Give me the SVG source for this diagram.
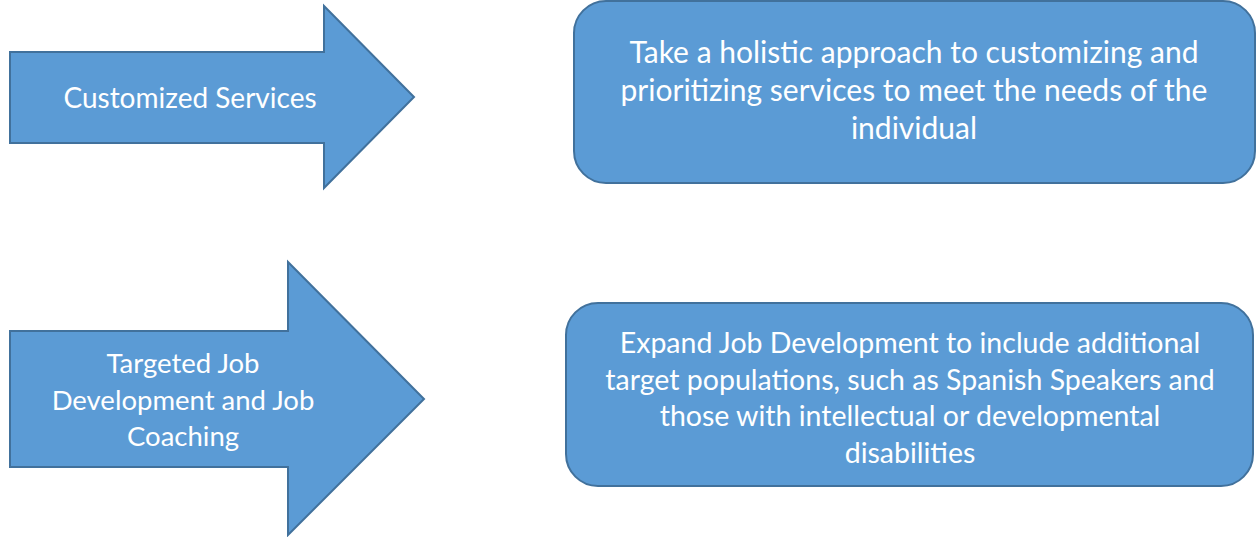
<svg xmlns="http://www.w3.org/2000/svg" width="1256" height="537" viewBox="0 0 1256 537">
<style>
.shape{fill:#5B9BD5;stroke:#41719C;stroke-width:2;stroke-linejoin:miter}
.t{font-family:Lato,"Open Sans","Liberation Sans",sans-serif;font-size:28px;fill:#FFFFFF;text-anchor:middle}
.b1{font-size:30px}
.b2{font-size:28.5px}
.a2{font-size:27.5px}
</style>
<rect width="1256" height="537" fill="#FFFFFF"/>
<g id="arrow-customized">
<polygon class="shape" points="10,52 324,52 324,6 414,97 324,188 324,143 10,143"/>
<text class="t" x="190" y="108">Customized Services</text>
</g>
<g id="box-holistic">
<rect class="shape" x="574" y="1" width="681" height="182" rx="32" ry="32"/>
<text class="t b1" x="914" y="63">Take a holistic approach to customizing and</text>
<text class="t b1" x="914" y="101">prioritizing services to meet the needs of the</text>
<text class="t b1" x="914" y="139">individual</text>
</g>
<g id="arrow-targeted">
<polygon class="shape" points="10,331 288,331 288,262 424,399 288,535 288,467 10,467"/>
<text class="t a2" x="183" y="373">Targeted Job</text>
<text class="t a2" x="183" y="410">Development and Job</text>
<text class="t a2" x="183" y="446">Coaching</text>
</g>
<g id="box-expand">
<rect class="shape" x="566" y="303" width="687" height="183" rx="32" ry="32"/>
<text class="t b2" x="910" y="353">Expand Job Development to include additional</text>
<text class="t b2" x="910" y="390">target populations, such as Spanish Speakers and</text>
<text class="t b2" x="910" y="426">those with intellectual or developmental</text>
<text class="t b2" x="910" y="463">disabilities</text>
</g>
<g id="connectors"></g>
</svg>
